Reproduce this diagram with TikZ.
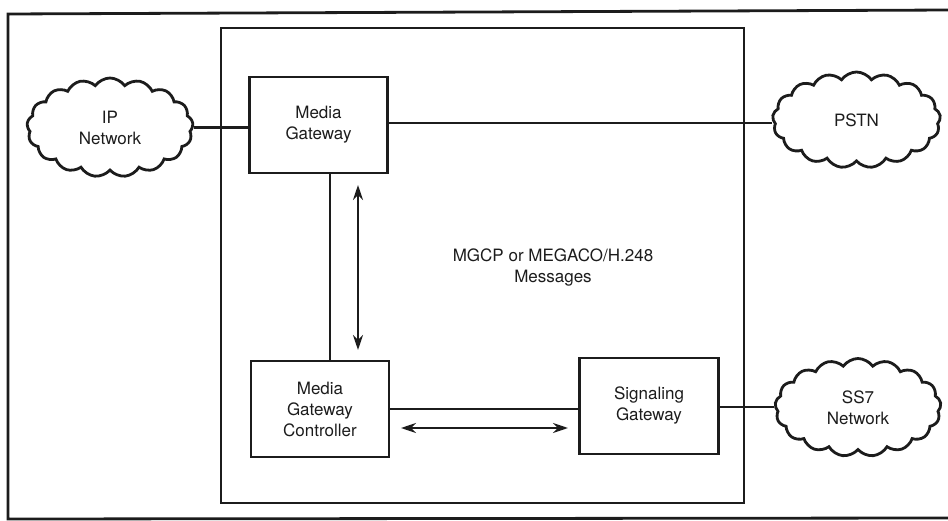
\documentclass[tikz,border=0pt]{standalone}
\usepackage{fontspec}
\setmainfont{TeX Gyre Heros}
\usetikzlibrary{shapes.symbols,arrows.meta,calc}
\definecolor{ink}{HTML}{1c1c1c}
\begin{document}
\begin{tikzpicture}[x=1pt,y=-1pt,
  ink line/.style={draw=ink,line width=2.8pt},
  unit/.style={ink line,rectangle,inner sep=0pt,align=center,
    font=\fontsize{17}{21}\selectfont,text=ink},
  net/.style={ink line,cloud,cloud puffs=17,cloud puff arc=110,
    cloud ignores aspect,inner sep=0pt,align=center,
    font=\fontsize{17}{21}\selectfont,text=ink},
  link/.style={draw=ink,line width=2.6pt},
  msg/.style={draw=ink,line width=2.3pt,
    {Stealth[length=15pt,width=10pt]}-{Stealth[length=15pt,width=10pt]}}]
\useasboundingbox (0,0) rectangle (948,521);

% outer frame (runs off the right edge)
\draw[ink line] (951,10) -- (8,14) -- (8,519) -- (951,518);
% inner enclosure
\draw[ink line] (221,28) rectangle (744,503);

% gateway elements
\node[unit,minimum width=138pt,minimum height=96pt] (mg) at (318.5,125) {Media\\Gateway};
\node[unit,minimum width=138pt,minimum height=96pt] (mgc) at (320,409) {Media\\Gateway\\Controller};
\node[unit,minimum width=139pt,minimum height=96pt] (sg) at (649,406) {Signaling\\Gateway};

% external networks
\node[net,minimum width=166pt,minimum height=99pt] (ip) at (110,127.5) {IP\\Network};
\node[net,minimum width=168pt,minimum height=96pt] (pstn) at (856.5,120) {PSTN};
\node[net,minimum width=166pt,minimum height=98pt] (ss7) at (858,407.5) {SS7\\Network};

% physical connections
\draw[link] (ip.east) -- (ip.east -| mg.west);
\draw[link] (mg.east |- 0,123) -- (pstn.west |- 0,123);
\draw[link] ([xshift=11.5pt]mg.south) -- ([xshift=11.5pt]mg.south |- mgc.north);
\draw[link] (mgc.east |- 0,409) -- (sg.west |- 0,409);
\draw[link] (sg.east |- 0,407) -- (ss7.west |- 0,407);

% control message flows
\coordinate (vtop) at (358,185);
\coordinate (vbot) at (358,350);
\draw[msg] (vtop) -- (vbot);
\coordinate (hleft) at (401,428);
\coordinate (hright) at (568,428);
\draw[msg] (hleft) -- (hright);

\node[font=\fontsize{17}{21}\selectfont,text=ink,align=center] (lbl) at (553,268)
  {MGCP or MEGACO/H.248\\Messages};
\end{tikzpicture}
\end{document}
